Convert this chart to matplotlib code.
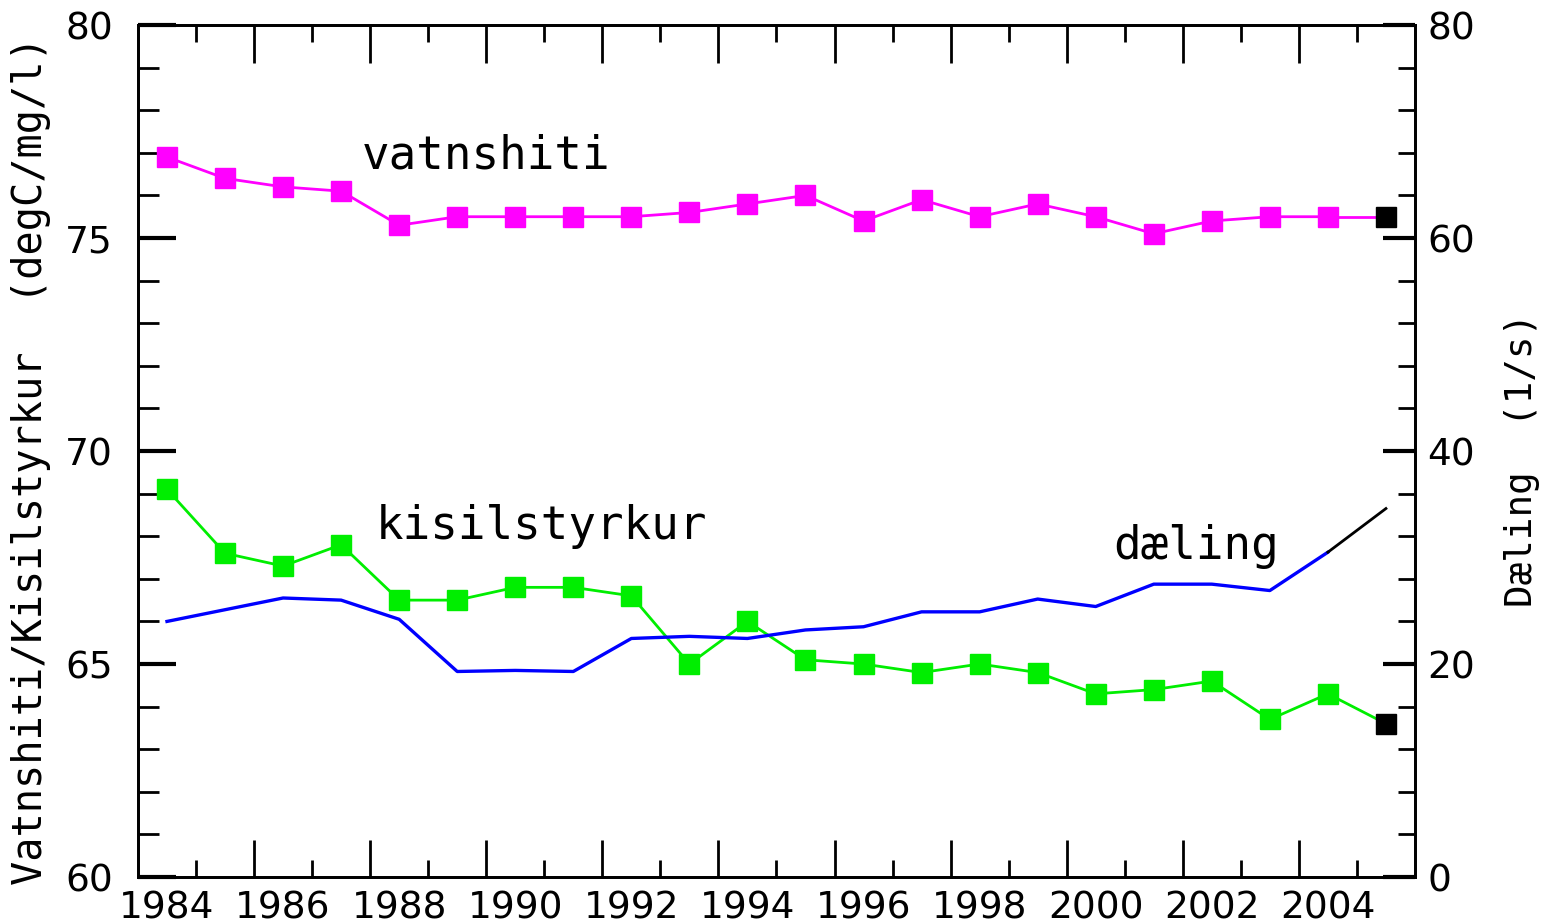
import numpy as np
import matplotlib.pyplot as plt

OUTPUT_FILE = "out.png"

YEARS = [1984, 1985, 1986, 1987, 1988, 1989, 1990, 1991, 1992, 1993, 1994,
         1995, 1996, 1997, 1998, 1999, 2000, 2001, 2002, 2003, 2004]
LAST_YEAR = 2005

VATNSHITI = [76.9, 76.4, 76.2, 76.1, 75.3, 75.5, 75.5, 75.5, 75.5, 75.6, 75.8,
             76.0, 75.4, 75.9, 75.5, 75.8, 75.5, 75.1, 75.4, 75.5, 75.5]
VATNSHITI_LAST = 75.5

KISILSTYRKUR = [69.1, 67.6, 67.3, 67.8, 66.5, 66.5, 66.8, 66.8, 66.6, 65.0, 66.0,
                65.1, 65.0, 64.8, 65.0, 64.8, 64.3, 64.4, 64.6, 63.7, 64.3]
KISILSTYRKUR_LAST = 63.6

DAELING = [24.0, 25.1, 26.2, 26.0, 24.2, 19.3, 19.4, 19.3, 22.4, 22.6, 22.4,
           23.2, 23.5, 24.9, 24.9, 26.1, 25.4, 27.5, 27.5, 26.9, 30.5]
DAELING_LAST = 34.6

YEAR_LABELS = ["1984", "1986", "1988", "1990", "1992", "1994",
               "1996", "1998", "2000", "2002", "2004"]

MONO = "DejaVu Sans Mono"


def style_axes(ax, ax2):
    # x: labels sit on the years, ticks sit between the years
    label_pos = [int(s) for s in YEAR_LABELS]
    ax.set_xlim(1983.5, 2005.5)
    ax.set_xticks(label_pos)
    ax.set_xticklabels(YEAR_LABELS)
    ax.set_xticks(np.arange(1984.5, 2005, 2), minor=True)
    ax.tick_params(axis="x", which="major", length=0, pad=10, labelsize=27)
    ax.tick_params(axis="x", which="minor", length=12, width=2,
                   direction="in", top=True, bottom=True)

    for side in ["bottom", "top"]:
        sec = ax.secondary_xaxis(side)
        sec.set_xticks(np.arange(1985.5, 2005, 2))
        sec.tick_params(length=27, width=2, direction="in",
                        labelbottom=False, labeltop=False)
        sec.spines[side].set_visible(False)

    ax.set_ylim(60, 80)
    ax.set_yticks([60, 65, 70, 75, 80])
    ax.set_yticks(np.arange(60, 81, 1), minor=True)
    ax.tick_params(axis="y", which="major", length=27, width=3,
                   direction="in", pad=18, labelsize=27)
    ax.tick_params(axis="y", which="minor", length=15, width=2, direction="in")

    ax2.set_ylim(0, 80)
    ax2.set_yticks([0, 20, 40, 60, 80])
    ax2.set_yticks(np.arange(0, 81, 4), minor=True)
    ax2.tick_params(axis="y", which="major", length=23, width=3,
                    direction="in", pad=9, labelsize=27)
    ax2.tick_params(axis="y", which="minor", length=12, width=2, direction="in")

    for a in (ax, ax2):
        for spine in a.spines.values():
            spine.set_linewidth(2)

    ax.set_ylabel("Vatnshiti/Kisilstyrkur  (degC/mg/l)", family=MONO, fontsize=29)
    ax.yaxis.set_label_coords(-0.068, 0.489)
    ax2.set_ylabel("Dæling  (1/s)", family=MONO, fontsize=27, rotation=90)
    ax2.yaxis.set_label_coords(1.07, 0.489)


def main():
    fig = plt.figure(figsize=(15.52, 9.23), dpi=100)
    ax = fig.add_axes([0.0889, 0.0498, 0.8228, 0.9231])
    ax2 = ax.twinx()

    square = dict(marker="s", markersize=15, linewidth=2)

    ax.plot(YEARS, VATNSHITI, color="#ff00ff", markeredgecolor="#ff00ff", **square)
    ax.plot([YEARS[-1], LAST_YEAR], [VATNSHITI[-1], VATNSHITI_LAST],
            color="#ff00ff", linewidth=2)
    ax.plot([LAST_YEAR], [VATNSHITI_LAST], "s", color="black", markersize=15)

    ax.plot(YEARS, KISILSTYRKUR, color="#00ee00", markeredgecolor="#00ee00", **square)
    ax.plot([YEARS[-1], LAST_YEAR], [KISILSTYRKUR[-1], KISILSTYRKUR_LAST],
            color="#00ee00", linewidth=2)
    ax.plot([LAST_YEAR], [KISILSTYRKUR_LAST], "s", color="black", markersize=15)

    ax2.plot(YEARS, DAELING, color="#0000ff", linewidth=2.4)
    ax2.plot([YEARS[-1], LAST_YEAR], [DAELING[-1], DAELING_LAST],
             color="black", linewidth=2)

    ax.text(1987.35, 76.92, "vatnshiti", family=MONO, fontsize=33, va="center")
    ax.text(1987.6, 68.22, "kisilstyrkur", family=MONO, fontsize=33, va="center")
    ax.text(2000.3, 67.75, "dæling", family=MONO, fontsize=33, va="center")

    style_axes(ax, ax2)

    fig.savefig(OUTPUT_FILE, dpi=100)
    plt.close(fig)


if __name__ == "__main__":
    main()
